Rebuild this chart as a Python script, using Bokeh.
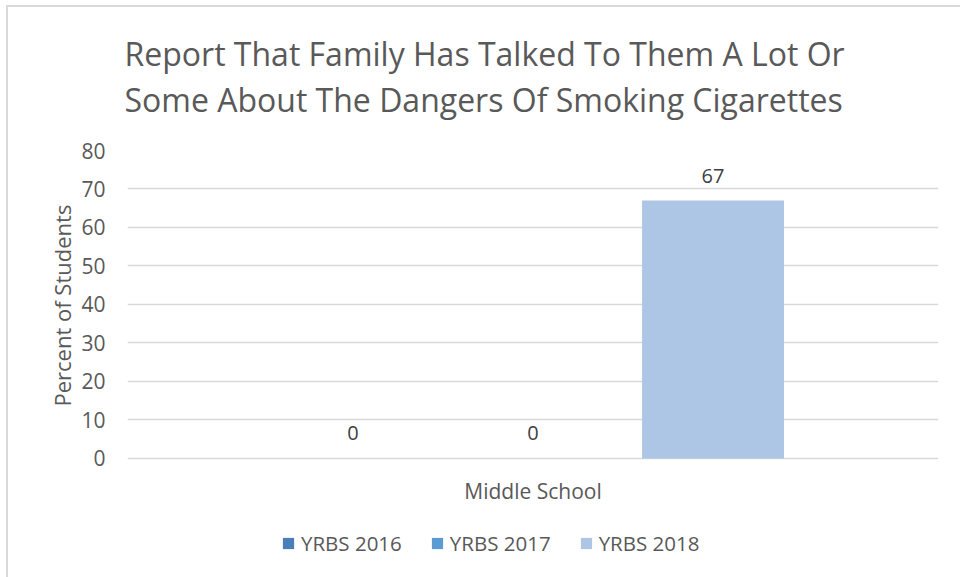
from bokeh.plotting import figure
from bokeh.models import (FactorRange, Range1d, ColumnDataSource, LabelSet, Legend,
                          LegendItem, FixedTicker, Title)
from bokeh.transform import dodge
from bokeh.embed import file_html
from bokeh.resources import INLINE
from bokeh.core.properties import value

# ---- data ----
title_text = "Report That Family Has Talked To Them A Lot Or\nSome About The Dangers Of Smoking Cigarettes"
categories = ["Middle School"]
series = ["YRBS 2016", "YRBS 2017", "YRBS 2018"]
values_2016 = [0]
values_2017 = [0]
values_2018 = [67]
y_ticks = [0, 10, 20, 30, 40, 50, 60, 70, 80]
y_label = "Percent of Students"

colors = ["#4a7ebb", "#5b9bd5", "#adc6e5"]
offsets = [-0.222, 0.0, 0.222]

FONT = "Open Sans"
TXT = "#595959"

# frame reaches down to hold the category label and the legend; value axis 0..80
p = figure(x_range=FactorRange(factors=categories), y_range=Range1d(-29.1, 80),
           frame_width=811, frame_height=420, output_backend="svg", toolbar_location=None,
           min_border_left=127, min_border_right=22, min_border_top=150,
           min_border_bottom=7, title=None)
p.border_fill_alpha = 0
p.styles = {"background": "linear-gradient(#d9d9d9, #d9d9d9) 6px 5px / 2px 100% no-repeat, "
                          "linear-gradient(#d9d9d9, #d9d9d9) 6px 5px / 100% 2px no-repeat, #ffffff"}

t = Title(text=title_text, align="left", offset=-3, standoff=58,
          text_font=FONT, text_font_size="32px", text_font_style="normal",
          text_color=TXT, text_line_height=1.09)
p.add_layout(t, "above")

renderers = []
for name, vals, col, off in zip(series, [values_2016, values_2017, values_2018], colors, offsets):
    src = ColumnDataSource(dict(x=categories, top=vals, label=[str(v) for v in vals]))
    r = p.vbar(x=dodge("x", off, range=p.x_range), top="top", width=0.175,
               source=src, fill_color=col, line_color=None)
    renderers.append(r)
    lbl = LabelSet(x=dodge("x", off, range=p.x_range), y="top", text="label", source=src,
                   y_offset=18, text_align="center", text_font=value(FONT),
                   text_font_size="20px", text_color="#404040")
    p.add_layout(lbl)

# category label under the value axis baseline
cat_src = ColumnDataSource(dict(x=categories, y=[y_ticks[0]] * len(categories), label=categories))
p.add_layout(LabelSet(x="x", y="y", text="label", source=cat_src, y_offset=-19,
                      text_align="center", text_baseline="top", text_font=value(FONT),
                      text_font_size="21px", text_color=TXT))

p.xgrid.grid_line_color = None
p.ygrid.grid_line_color = "#d9d9d9"
p.ygrid.grid_line_width = 1.5
p.outline_line_color = None
p.xaxis.visible = False

p.yaxis.ticker = FixedTicker(ticks=y_ticks)
p.yaxis.axis_line_color = None
p.yaxis.major_tick_line_color = None
p.yaxis.minor_tick_line_color = None
p.yaxis.major_label_text_font = FONT
p.yaxis.major_label_text_font_size = "21px"
p.yaxis.major_label_text_color = TXT
p.yaxis.major_label_standoff = 16

yt = Title(text=y_label, align="left", offset=164, standoff=4,
           text_font=FONT, text_font_size="22px", text_font_style="normal",
           text_color=TXT)
p.add_layout(yt, "left")

legend = Legend(items=[LegendItem(label=s, renderers=[r]) for s, r in zip(series, renderers)],
                orientation="horizontal", location=(154, 13),
                border_line_color=None, background_fill_alpha=0,
                label_text_font=FONT, label_text_font_size="20.5px", label_text_color=TXT,
                glyph_width=14, glyph_height=14, spacing=28, label_standoff=6,
                padding=0, margin=0)
p.add_layout(legend)

open("out.html", "w").write(file_html(p, INLINE))
